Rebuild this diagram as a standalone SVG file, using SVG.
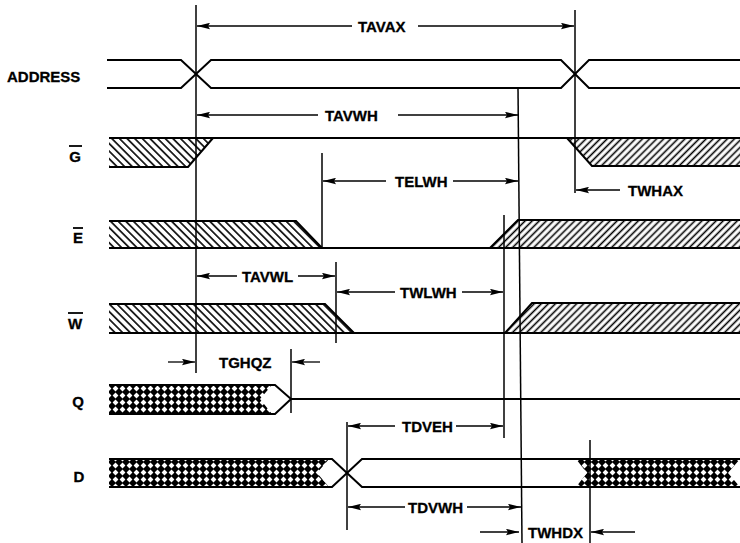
<svg xmlns="http://www.w3.org/2000/svg" width="740" height="543" viewBox="0 0 740 543">
<style>
  .sig{fill:none;stroke:#000;stroke-width:2;stroke-linejoin:miter}
  .ref{fill:none;stroke:#000;stroke-width:1.5}
  .dim{fill:none;stroke:#000;stroke-width:1.3;marker-end:url(#ah)}
  .t{font-family:"Liberation Sans",Arial,sans-serif;font-weight:bold;font-size:15px;fill:#000;stroke:#000;stroke-width:0.3}
  .ob{stroke:#000;stroke-width:1.8}
</style>
<defs>
  <marker id="ah" viewBox="0 0 13 7" refX="13" refY="3.5" markerWidth="13" markerHeight="7" markerUnits="userSpaceOnUse" orient="auto">
    <path d="M0,0.3 L13,3.5 L0,6.7 L2,3.5 z" fill="#000"/>
  </marker>
  <pattern id="hb" patternUnits="userSpaceOnUse" width="5.4" height="5.4" patternTransform="rotate(-45)">
    <line x1="2.7" y1="-1" x2="2.7" y2="7" stroke="#000" stroke-width="1.6"/>
  </pattern>
  <pattern id="hf" patternUnits="userSpaceOnUse" width="5" height="5" patternTransform="rotate(45)">
    <line x1="2.5" y1="-1" x2="2.5" y2="7" stroke="#000" stroke-width="1.6"/>
  </pattern>
  <pattern id="xh" patternUnits="userSpaceOnUse" width="7" height="7">
    <rect width="7" height="7" fill="#000"/>
    <polygon points="3.5,0.6 6.4,3.5 3.5,6.4 0.6,3.5" fill="#fff"/>
  </pattern>
</defs>
<rect width="740" height="543" fill="#fff"/>

<g id="address">
  <text class="t" x="7" y="82">ADDRESS</text>
  <path class="sig" d="M107,60 H181 L196,74 L211,88 H561 L575,74 L589,60 H740"/>
  <path class="sig" d="M107,88 H181 L196,74 L211,60 H561 L575,74 L589,88 H740"/>
</g>

<g id="g-signal">
  <text class="t" x="75" y="162" text-anchor="middle">G</text>
  <line class="ob" x1="69" y1="146" x2="82" y2="146"/>
  <polygon points="109,138 213,138 188,167 109,167" fill="url(#hb)"/>
  <polygon points="567,138 740,138 740,166 592,166" fill="url(#hf)"/>
  <path class="sig" d="M109,138 H740"/>
  <path class="sig" d="M109,167 H188 L213,138"/>
  <path class="sig" d="M567,138 L592,166 H740"/>
</g>

<g id="e-signal">
  <text class="t" x="78" y="243" text-anchor="middle">E</text>
  <line class="ob" x1="73" y1="228" x2="83" y2="228"/>
  <polygon points="109,221 296,221 322,248 109,248" fill="url(#hb)"/>
  <polygon points="490,248 518,220 740,220 740,248" fill="url(#hf)"/>
  <path class="sig" d="M109,221 H296 L322,248"/>
  <path class="sig" d="M109,248 H740"/>
  <path class="sig" d="M490,248 L518,220 H740"/>
</g>

<g id="w-signal">
  <text class="t" x="75" y="329" text-anchor="middle">W</text>
  <line class="ob" x1="68" y1="313" x2="83" y2="313"/>
  <polygon points="109,304 325,304 354,333 109,333" fill="url(#hb)"/>
  <polygon points="505,333 532,303 740,303 740,333" fill="url(#hf)"/>
  <path class="sig" d="M109,304 H325 L354,333"/>
  <path class="sig" d="M109,333 H740"/>
  <path class="sig" d="M505,333 L532,303 H740"/>
</g>

<g id="q-signal">
  <text class="t" x="78" y="407" text-anchor="middle">Q</text>
  <polygon points="109,385 272,385 260,399 272,414 109,414" fill="url(#xh)"/>
  <path class="sig" d="M109,385 H275 L291,399 L275,414 H109"/>
  <path class="sig" d="M291,399 H740"/>
</g>

<g id="d-signal">
  <text class="t" x="79" y="482" text-anchor="middle">D</text>
  <polygon points="109,459 329,459 317,473 329,487 109,487" fill="url(#xh)"/>
  <polygon points="576,459 740,459 728,473 740,487 576,487 587,473" fill="url(#xh)"/>
  <path class="sig" d="M109,459 H332 L347,473 L362,487 H740"/>
  <path class="sig" d="M109,487 H332 L347,473 L362,459 H740"/>
</g>

<g id="connectors">
  <line class="ref" x1="196" y1="5" x2="196" y2="373"/>
  <line class="ref" x1="575" y1="10" x2="575" y2="193"/>
  <line class="ref" x1="518" y1="88" x2="522" y2="543"/>
  <line class="ref" x1="322" y1="153" x2="322" y2="249"/>
  <line class="ref" x1="336" y1="262" x2="336" y2="343"/>
  <line class="ref" x1="504" y1="215" x2="504" y2="438"/>
  <line class="ref" x1="291" y1="349" x2="291" y2="413"/>
  <line class="ref" x1="347" y1="422" x2="347" y2="530"/>
  <line class="ref" x1="590" y1="440" x2="590" y2="543"/>

  <line class="dim" x1="352" y1="26" x2="197" y2="26"/>
  <line class="dim" x1="418" y1="26" x2="574" y2="26"/>
  <text class="t" x="358" y="32">TAVAX</text>

  <line class="dim" x1="318" y1="115" x2="197" y2="115"/>
  <line class="dim" x1="398" y1="115" x2="518" y2="115"/>
  <text class="t" x="325" y="121">TAVWH</text>

  <line class="dim" x1="386" y1="181" x2="323" y2="181"/>
  <line class="dim" x1="453" y1="181" x2="518" y2="181"/>
  <text class="t" x="395" y="187">TELWH</text>

  <line class="dim" x1="620" y1="190" x2="576" y2="190"/>
  <text class="t" x="628" y="196">TWHAX</text>

  <line class="dim" x1="237" y1="276" x2="197" y2="276"/>
  <line class="dim" x1="298" y1="276" x2="335" y2="276"/>
  <text class="t" x="242" y="282">TAVWL</text>

  <line class="dim" x1="395" y1="292" x2="337" y2="292"/>
  <line class="dim" x1="462" y1="292" x2="503" y2="292"/>
  <text class="t" x="400" y="298">TWLWH</text>

  <line class="dim" x1="168" y1="362" x2="195" y2="362"/>
  <line class="dim" x1="320" y1="362" x2="292" y2="362"/>
  <text class="t" x="219" y="368">TGHQZ</text>

  <line class="dim" x1="395" y1="426" x2="348" y2="426"/>
  <line class="dim" x1="456" y1="426" x2="503" y2="426"/>
  <text class="t" x="402" y="432">TDVEH</text>

  <line class="dim" x1="405" y1="507" x2="348" y2="507"/>
  <line class="dim" x1="467" y1="507" x2="521" y2="507"/>
  <text class="t" x="408" y="513">TDVWH</text>

  <line class="dim" x1="480" y1="532" x2="519" y2="532"/>
  <line class="dim" x1="635" y1="532" x2="591" y2="532"/>
  <text class="t" x="528" y="538">TWHDX</text>
</g>
</svg>
